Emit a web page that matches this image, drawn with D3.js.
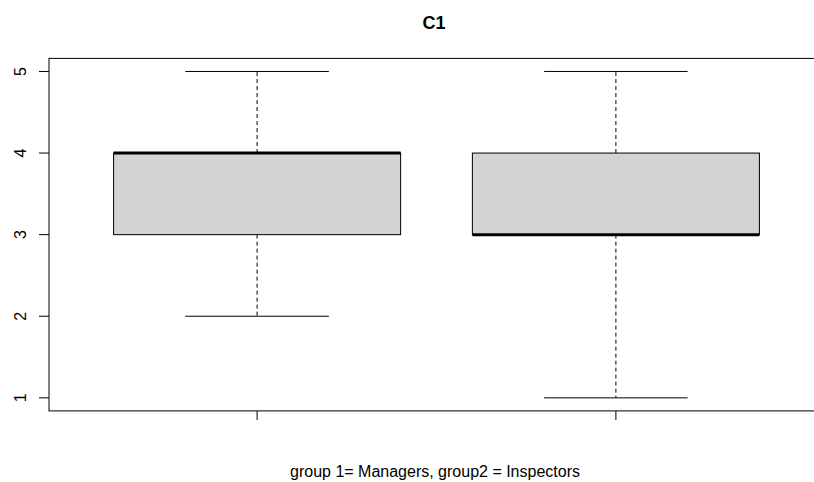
<!DOCTYPE html>
<html>
<head>
<meta charset="utf-8">
<script src="https://cdn.jsdelivr.net/npm/d3@7"></script>
<style>
  body { margin: 0; background: #fff; }
  svg { font-family: "Liberation Sans", Arial, sans-serif; }
</style>
</head>
<body>
<svg id="chart" width="814" height="482"></svg>
<script>
// Box statistics
const groups = [1, 2];
const lowWhisker = [2, 1];
const q1 = [3, 3];
const median = [4, 3];
const q3 = [4, 4];
const highWhisker = [5, 5];
const yTicks = [1, 2, 3, 4, 5];

const width = 814;
const height = 482;

const svg = d3.select("#chart");

// R-style extended domains (4% padding)
const x = d3.scaleLinear().domain([0.42, 2.58]).range([49, 824]);
const y = d3.scaleLinear().domain([0.84, 5.16]).range([410.9, 58.4]);

const boxW = x(1.4) - x(1);   // half box width (0.4 units)
const capW = boxW / 2;

// Boxes
groups.forEach((g, i) => {
    const cx = x(g);
    // whiskers (dashed)
    svg.append("line")
        .attr("x1", cx).attr("x2", cx)
        .attr("y1", y(q3[i])).attr("y2", y(highWhisker[i]))
        .attr("stroke", "#000").attr("stroke-dasharray", "4,3");
    svg.append("line")
        .attr("x1", cx).attr("x2", cx)
        .attr("y1", y(q1[i])).attr("y2", y(lowWhisker[i]))
        .attr("stroke", "#000").attr("stroke-dasharray", "4,3");
    // caps
    [lowWhisker[i], highWhisker[i]].forEach(v => {
        svg.append("line")
            .attr("x1", cx - capW).attr("x2", cx + capW)
            .attr("y1", y(v)).attr("y2", y(v))
            .attr("stroke", "#000");
    });
    // box
    svg.append("rect")
        .attr("x", cx - boxW).attr("width", boxW * 2)
        .attr("y", y(q3[i])).attr("height", y(q1[i]) - y(q3[i]))
        .attr("fill", "#d3d3d3").attr("stroke", "#000");
    // median
    svg.append("line")
        .attr("x1", cx - boxW).attr("x2", cx + boxW)
        .attr("y1", y(median[i])).attr("y2", y(median[i]))
        .attr("stroke", "#000").attr("stroke-width", 3);
});

// Plot frame
svg.append("rect")
    .attr("x", 49).attr("y", 58.4)
    .attr("width", 824 - 49).attr("height", 410.9 - 58.4)
    .attr("fill", "none").attr("stroke", "#000");

// Y axis ticks and rotated labels
const yAxis = svg.append("g");
yTicks.forEach(t => {
    yAxis.append("line")
        .attr("x1", 39).attr("x2", 49)
        .attr("y1", y(t)).attr("y2", y(t))
        .attr("stroke", "#000");
    yAxis.append("text")
        .attr("transform", `translate(25.5,${y(t)}) rotate(-90)`)
        .attr("text-anchor", "middle")
        .attr("font-size", 16)
        .text(t);
});

// X axis ticks (no labels)
groups.forEach(g => {
    svg.append("line")
        .attr("x1", x(g)).attr("x2", x(g))
        .attr("y1", 410.9).attr("y2", 420)
        .attr("stroke", "#000");
});

// Title
svg.append("text")
    .attr("x", 434).attr("y", 29)
    .attr("text-anchor", "middle")
    .attr("font-size", 18).attr("font-weight", "bold")
    .text("C1");

// X label
svg.append("text")
    .attr("x", 435).attr("y", 477)
    .attr("text-anchor", "middle")
    .attr("font-size", 16)
    .text("group 1= Managers, group2 = Inspectors");
</script>
</body>
</html>
